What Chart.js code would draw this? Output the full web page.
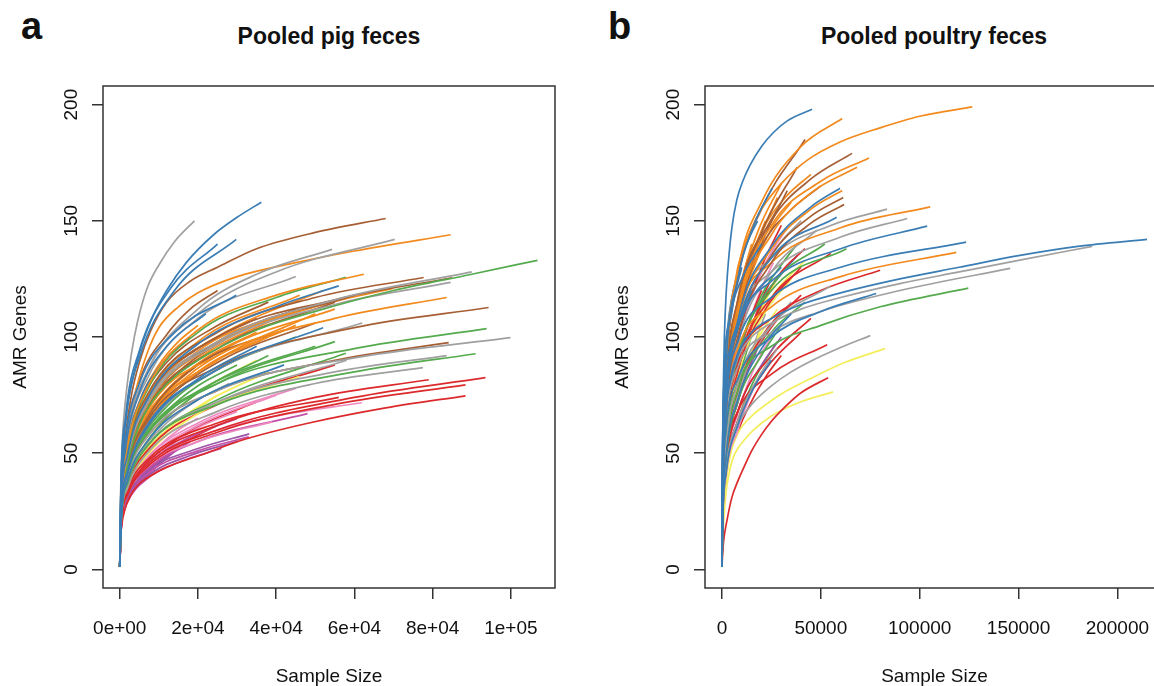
<!DOCTYPE html>
<html>
<head>
<meta charset="utf-8">
<script src="https://cdn.jsdelivr.net/npm/chart.js@4/dist/chart.umd.min.js"></script>
<style>
  html, body { margin: 0; padding: 0; overflow: hidden; background: #fff; }
  body { position: relative; width: 1154px; height: 686px; font-family: 'Liberation Sans', Arial, Helvetica, sans-serif; color: #111; }
  canvas { position: absolute; top: 0; }
  .letter { position: absolute; font-weight: bold; font-size: 38px; line-height: 38px; }
  .title { position: absolute; width: 400px; text-align: center; font-weight: bold; font-size: 23px; line-height: 23px; top: 25px; }
</style>
</head>
<body>
<div class="letter" style="left:21px; top:7px">a</div>
<div class="title" style="left:129px">Pooled pig feces</div>
<div class="letter" style="left:608px; top:7px">b</div>
<div class="title" style="left:734px">Pooled poultry feces</div>
<canvas id="pig" width="577" height="686" style="left:0"></canvas>
<canvas id="poultry" width="600" height="686" style="left:577px"></canvas>
<script>
/* rarefaction curves, [sample size, AMR genes] */

var geneTicks = [0, 50, 100, 150, 200]
var geneTickLabels = ['0', '50', '100', '150', '200']

var pigTicks = [0, 20000, 40000, 60000, 80000, 100000]
var pigTickLabels = ['0e+00', '2e+04', '4e+04', '6e+04', '8e+04', '1e+05']

var poultryTicks = [0, 50000, 100000, 150000, 200000]
var poultryTickLabels = ['0', '50000', '100000', '150000', '200000']

var pigCurves = [
  [[0,1],[150,22],[400,38],[1000,55],[2000,70],[3500,83],[5500,96],[8500,109],[12000,120],[17000,132],[24000,144],[30000,151.5],[36200,158]],
  [[0,1],[300,36],[1500,66],[5000,94],[13000,121],[25000,140]],
  [[0,1],[300,35],[1500,64],[5000,91],[14000,120],[29800,142]],
  [[0,1],[300,30],[1500,56],[5000,80],[14000,102],[29800,118]],
  [[0,1],[400,23],[2000,41],[7000,61],[25000,86],[52000,104]],
  [[0,1],[400,24],[2000,42],[7000,62],[20000,82],[35000,96]],
  [[0,1],[300,28],[1500,52],[5000,76],[12000,96],[22000,110]],
  [[0,1],[400,22],[2000,38],[7000,55],[20000,73],[42000,88]],
  [[0,1],[400,27],[2000,49],[7000,73],[20000,97],[40000,113],[56000,122]],
  [[0,1],[150,25],[400,45],[900,62],[1800,78],[3000,93],[4600,107],[7000,121],[10000,131],[14000,141],[19100,150]],
  [[0,1],[200,25],[700,42],[1500,58],[3000,75],[5000,89],[8000,103],[12000,115],[18000,124],[25000,130],[35000,138],[50000,145],[68000,151]],
  [[0,1],[400,32],[2000,58],[7000,85],[20000,110],[40000,128],[70300,142]],
  [[0,1],[400,33],[2000,58],[7000,85],[20000,112],[35000,127],[54300,137.7]],
  [[0,1],[200,20],[700,35],[2000,56],[4000,76],[7000,93],[10000,104],[15000,113],[20000,119],[30000,126],[45000,132],[60000,137],[84600,144]],
  [[0,1],[400,30],[2000,53],[7000,78],[20000,103],[40000,118],[62400,127]],
  [[0,1],[400,29],[2000,52],[7000,77],[20000,102],[40000,117],[57800,125.7]],
  [[0,1],[200,16],[700,28],[2000,45],[5000,62],[10000,76],[20000,90],[35000,103],[50000,111],[70000,120],[90000,127],[106800,133]],
  [[0,1],[400,28],[2000,49],[7000,72],[25000,98],[55000,116],[90000,128]],
  [[0,1],[400,28],[2000,50],[7000,73],[25000,100],[55000,116],[85000,125.5]],
  [[0,1],[400,27],[2000,48],[7000,71],[25000,97],[55000,114],[84600,123.5]],
  [[0,1],[400,28],[2000,51],[7000,75],[25000,102],[50000,117],[77700,125.6]],
  [[0,1],[400,26],[2000,46],[7000,68],[25000,92],[55000,108],[83600,117]],
  [[0,1],[400,25],[2000,44],[7000,64],[25000,87],[60000,104],[94300,112.7]],
  [[0,1],[400,24],[2000,41],[7000,59],[25000,80],[60000,95],[93800,103.6]],
  [[0,1],[400,24],[2000,40],[7000,57],[25000,77],[60000,91],[99900,99.7]],
  [[0,1],[400,23],[2000,40],[7000,57],[25000,77],[55000,90],[84100,97.6]],
  [[0,1],[400,22],[2000,37],[7000,53],[25000,71],[60000,85],[91000,92.8]],
  [[0,1],[400,22],[2000,37],[7000,53],[25000,72],[55000,85],[83600,92]],
  [[0,1],[400,21],[2000,35],[7000,50],[25000,68],[50000,80],[77500,86.8]],
  [[0,1],[400,20],[2000,33],[7000,45],[25000,60],[60000,74],[93500,82.5]],
  [[0,1],[400,20],[2000,33],[7000,46],[25000,62],[50000,74],[79000,81.6]],
  [[0,1],[400,19],[2000,32],[7000,44],[25000,59],[55000,71],[88400,79.4]],
  [[0,1],[150,12],[500,19],[1200,25],[2500,31],[4500,36],[7600,40],[12000,44],[20400,49],[32000,56],[48400,63],[68000,69.5],[88400,74.7]],
  [[0,1],[400,20],[2000,33],[7000,45],[20000,57],[40000,66],[61900,71.7]],
  [[0,1],[400,19],[2000,32],[7000,44],[20000,55],[39000,63.5]],
  [[0,1],[400,19],[2000,31],[7000,42],[20000,52],[33100,58.3]],
  [[0,1],[400,18],[2000,30],[7000,41],[20000,51],[33000,57]],
  [[0,1],[400,18],[2000,29],[7000,39],[15000,46],[26000,52]],
  [[0,1],[400,18],[2000,30],[7000,40],[18000,49],[30000,55]],
  [[0,1],[400,19],[2000,32],[7000,43],[20000,55],[48000,67]],
  [[0,1],[400,20],[2000,34],[7000,47],[25000,63],[56000,74]],
  [[0,1],[400,27],[2000,49],[7000,74],[20000,98],[46000,118]],
  [[0,1],[400,25],[2000,46],[7000,69],[25000,95],[55000,115]],
  [[0,1],[400,24],[2000,43],[7000,64],[25000,90],[50000,110]],
  [[0,1],[400,24],[2000,42],[7000,62],[20000,85],[45000,105]],
  [[0,1],[400,24],[2000,42],[7000,62],[20000,85],[38000,100]],
  [[0,1],[400,25],[2000,44],[7000,65],[20000,88],[42000,103]],
  [[0,1],[400,22],[2000,38],[7000,55],[20000,76],[38000,92]],
  [[0,1],[400,21],[2000,35],[7000,49],[20000,67],[45900,83]],
  [[0,1],[400,31],[2000,56],[7000,82],[20000,108],[45000,126]],
  [[0,1],[400,26],[2000,47],[7000,70],[20000,94],[48000,113]],
  [[0,1],[400,26],[2000,47],[7000,70],[25000,98],[60000,118]],
  [[0,1],[400,23],[2000,41],[7000,61],[25000,86],[62000,106]],
  [[0,1],[400,23],[2000,40],[7000,58],[25000,80],[55000,98]],
  [[0,1],[400,20],[2000,34],[7000,47],[20000,62],[40000,75]],
  [[0,1],[400,22],[2000,37],[7000,53],[25000,72],[58000,90]],
  [[0,1],[400,26],[2000,47],[7000,70],[25000,97],[50000,113],[70000,121]],
  [[0,1],[400,27],[2000,49],[7000,74],[20000,95],[35000,108]],
  [[0,1],[400,25],[2000,44],[7000,65],[18000,84],[28000,95]],
  [[0,1],[400,21],[2000,35],[7000,48],[20000,63],[45000,78]],
  [[0,1],[400,20],[2000,33],[7000,45],[18000,57],[30000,65]],
  [[0,1],[400,21],[2000,36],[7000,51],[25000,71],[55000,88]],
  [[0,1],[400,22],[2000,38],[7000,55],[20000,76],[35000,90]],
  [[0,1],[400,22],[2000,37],[7000,53],[25000,73],[57800,93]],
  [[0,1],[300,25],[1500,45],[5000,66],[12000,84],[28000,103],[52000,120]],
  [[0,1],[300,24],[1500,43],[5000,63],[12000,80],[25000,97],[45000,112]],
  [[0,1],[300,24],[1500,42],[5000,62],[12000,79],[24000,95],[40000,108]],
  [[0,1],[300,22],[1500,39],[5000,57],[12000,73],[26000,90],[50000,106]],
  [[0,1],[300,23],[1500,41],[5000,60],[12000,77],[22000,91],[35000,102]],
  [[0,1],[300,23],[1500,40],[5000,59],[12000,76],[20000,88],[30000,98]],
  [[0,1],[300,25],[1500,44],[5000,64],[12000,82],[24000,97],[42000,110]],
  [[0,1],[300,27],[1500,48],[5000,70],[12000,89],[24000,104],[38000,115]],
  [[0,1],[300,21],[1500,37],[5000,54],[12000,70],[25000,86],[45000,100]],
  [[0,1],[300,19],[1500,33],[5000,47],[12000,60],[22000,72],[38000,85]],
  [[0,1],[300,21],[1500,37],[5000,53],[12000,68],[20000,79],[30000,88]],
  [[0,1],[300,19],[1500,34],[5000,49],[12000,63],[20000,73],[28000,80]],
  [[0,1],[300,18],[1500,30],[5000,41],[12000,52],[20000,61],[30000,68]],
  [[0,1],[300,18],[1500,29],[5000,39],[10000,47],[16000,55],[22000,60]],
  [[0,1],[300,17],[1500,28],[5000,38],[10000,46],[18000,55]],
  [[0,1],[300,17],[1500,28],[5000,37],[10000,45],[15000,52]],
  [[0,1],[300,17],[1500,29],[5000,39],[12000,49],[18000,56],[25000,62]],
  [[0,1],[300,19],[1500,32],[5000,44],[10000,53],[15000,60],[20000,65]],
  [[0,1],[300,26],[1500,45],[5000,64],[10000,80],[15000,90]],
  [[0,1],[300,28],[1500,50],[5000,72],[10000,87],[18000,100]],
  [[0,1],[300,31],[1500,56],[5000,81],[12000,101],[18000,112],[25000,120]],
  [[0,1],[300,28],[1500,50],[5000,72],[10000,88],[15000,98],[20000,105]],
  [[0,1],[300,21],[1500,37],[5000,53],[12000,67],[26000,82],[50000,96]],
  [[0,1],[300,18],[1500,31],[5000,42],[12000,53],[22000,63],[35000,72]],
  [[0,1],[300,19],[1500,33],[5000,46],[12000,59],[18000,67],[25000,75]],
  [[0,1],[300,23],[1500,41],[5000,60],[12000,77],[28000,96],[55000,112]],
  [[0,1],[300,22],[1500,38],[5000,55],[12000,71],[22000,83],[32000,92]],
  [[0,1],[300,26],[1500,46],[5000,65],[8500,77],[12000,85]]
]

var poultryCurves = [
  [[0,1],[100,30],[300,55],[700,80],[1200,100],[2000,117],[3200,132],[5000,147],[7500,159],[10500,167],[14200,174],[20000,182],[26000,188],[33000,193],[45600,198]],
  [[0,1],[200,40],[1000,80],[4000,108],[10000,125],[20000,140]],
  [[0,1],[200,36],[1000,72],[4000,95],[9000,108],[15000,120]],
  [[0,1],[200,30],[1000,60],[4000,80],[8000,92],[12000,100]],
  [[0,1],[200,32],[1000,65],[4000,90],[12000,112],[30000,130]],
  [[0,1],[300,31],[2000,71],[8000,107],[25000,139],[45000,156],[59700,164]],
  [[0,1],[300,38],[2000,76],[8000,104],[25000,124],[60000,138],[103800,147.7]],
  [[0,1],[300,36],[2000,72],[8000,98],[25000,117],[60000,130],[123500,140.8]],
  [[0,1],[200,25],[800,48],[2000,68],[4500,83],[8000,93],[15000,102],[25000,108],[40000,114],[60000,119],[90000,125],[120000,130],[150000,135],[180000,139],[215000,142]],
  [[0,1],[300,31],[2000,70],[8000,104],[25000,134],[58000,151.5]],
  [[0,1],[300,38],[2000,86],[8000,125],[16000,148],[25300,164]],
  [[0,1],[300,30],[2000,60],[8000,82],[25000,100],[50000,111],[78000,118.7]],
  [[0,1],[300,22],[2000,48],[8000,73],[20000,95],[35000,110]],
  [[0,1],[300,20],[2000,41],[8000,62],[16000,78],[25000,90]],
  [[0,1],[200,30],[800,55],[2000,85],[4000,108],[8000,130],[14000,145],[20000,155],[30000,166],[43000,176],[60000,184],[80000,190],[100000,195],[126600,199]],
  [[0,1],[300,35],[2000,85],[8000,128],[20000,158],[40000,182],[60800,194]],
  [[0,1],[300,34],[2000,82],[8000,125],[20000,155],[42000,185]],
  [[0,1],[300,32],[2000,76],[8000,116],[25000,150],[45000,168],[65800,179]],
  [[0,1],[300,32],[2000,75],[8000,113],[25000,148],[50000,167],[74400,177]],
  [[0,1],[300,31],[2000,72],[8000,110],[25000,144],[45000,162],[68300,173]],
  [[0,1],[300,30],[2000,70],[8000,106],[25000,138],[45000,155],[60800,163]],
  [[0,1],[300,30],[2000,68],[8000,103],[25000,135],[45000,152],[61300,160]],
  [[0,1],[300,29],[2000,66],[8000,100],[25000,132],[45000,149],[61800,157]],
  [[0,1],[300,31],[2000,74],[8000,113],[20000,145],[38000,173]],
  [[0,1],[300,32],[2000,76],[8000,116],[18000,145],[30000,166]],
  [[0,1],[300,30],[2000,72],[8000,110],[18000,140],[28000,160]],
  [[0,1],[300,30],[2000,70],[8000,107],[20000,140],[33000,163]],
  [[0,1],[300,33],[2000,76],[8000,115],[15000,135],[22000,150]],
  [[0,1],[300,40],[2000,80],[8000,111],[25000,134],[55000,148],[83500,155]],
  [[0,1],[300,40],[2000,80],[8000,110],[25000,132],[60000,147],[105300,156]],
  [[0,1],[300,39],[2000,78],[8000,107],[25000,128],[60000,143],[93700,151]],
  [[0,1],[300,35],[2000,70],[8000,95],[25000,113],[60000,126],[118500,136.4]],
  [[0,1],[200,24],[800,46],[2000,66],[4500,81],[8000,91],[15000,100],[25000,106],[40000,112],[60000,117],[90000,123],[120000,128],[150000,133],[187300,139]],
  [[0,1],[300,33],[2000,64],[8000,87],[25000,102],[50000,111],[90000,120],[145800,129.5]],
  [[0,1],[300,28],[2000,64],[8000,97],[25000,128],[48000,146]],
  [[0,1],[300,23],[2000,52],[8000,80],[25000,105],[55000,122]],
  [[0,1],[300,20],[2000,42],[8000,64],[18000,82],[28000,95]],
  [[0,1],[300,18],[1000,33],[2500,46],[5000,56],[8000,62.5],[10600,66],[16000,72],[25000,79],[35000,85],[44600,89.5],[60000,95.5],[75000,100.6]],
  [[0,1],[300,30],[2000,58],[8000,80],[25000,96],[50000,105],[80000,113],[124600,121]],
  [[0,1],[300,26],[2000,60],[8000,91],[25000,122],[52000,140]],
  [[0,1],[300,27],[2000,61],[8000,92],[25000,120],[63000,138]],
  [[0,1],[300,22],[2000,50],[8000,77],[25000,102],[42000,115]],
  [[0,1],[300,22],[2000,47],[8000,72],[20000,92],[30000,105]],
  [[0,1],[300,34],[2000,66],[8000,90],[25000,108],[50000,120],[80000,128.7]],
  [[0,1],[300,26],[2000,50],[8000,68],[25000,84],[53200,96.7]],
  [[0,1],[300,28],[2000,64],[8000,98],[20000,130],[30000,148]],
  [[0,1],[300,25],[2000,58],[8000,88],[25000,117],[55000,136]],
  [[0,1],[300,24],[2000,55],[8000,85],[22000,112],[40000,130]],
  [[0,1],[300,22],[2000,50],[8000,77],[20000,100],[40000,118]],
  [[0,1],[300,20],[2000,44],[8000,68],[25000,92],[45000,108]],
  [[0,1],[300,20],[2000,42],[8000,64],[22000,86],[40000,102]],
  [[0,1],[300,28],[2000,60],[8000,90],[14000,107],[20000,120]],
  [[0,1],[200,5],[800,12],[2500,21],[5000,31],[8000,38],[10600,43],[15000,51],[20000,58],[24300,63],[32000,70],[40000,76],[53700,82.5]],
  [[0,1],[300,27],[2000,62],[8000,96],[20000,128],[32000,146]],
  [[0,1],[300,19],[2000,40],[8000,60],[14000,74],[20000,85]],
  [[0,1],[300,25],[2000,57],[8000,88],[25000,117],[42000,133]],
  [[0,1],[300,23],[2000,53],[8000,83],[20000,108],[35000,125]],
  [[0,1],[300,23],[2000,51],[8000,78],[18000,99],[28000,112]],
  [[0,1],[300,14],[1000,28],[2500,41],[5000,52],[8000,58.5],[10600,62],[15000,66],[19200,69],[30000,75.5],[44600,82],[62000,89],[82500,95]],
  [[0,1],[200,8],[800,20],[2000,33],[3500,41],[5600,48],[8000,52],[10600,55],[16000,60],[25000,66],[38000,71.5],[56200,76.4]],
  [[0,1],[300,21],[2000,45],[8000,68],[20000,88],[30000,100]],
  [[0,1],[300,22],[2000,48],[8000,72],[13000,85],[18000,95]],
  [[0,1],[300,32],[2000,76],[8000,115],[20000,145],[32000,160],[45000,170]],
  [[0,1],[300,30],[2000,72],[8000,110],[20000,139],[34000,154],[50000,165]],
  [[0,1],[300,30],[2000,70],[8000,107],[18000,134],[26000,148],[35000,158]],
  [[0,1],[300,30],[2000,70],[8000,108],[16000,134],[22000,146],[28000,155]],
  [[0,1],[300,28],[2000,65],[8000,99],[20000,128],[30000,141],[40000,150]],
  [[0,1],[300,26],[2000,60],[8000,91],[20000,118],[30000,131],[38000,140]],
  [[0,1],[300,25],[2000,58],[8000,88],[20000,114],[30000,128],[42000,138]],
  [[0,1],[300,28],[2000,62],[8000,92],[20000,116],[30000,127],[38000,135]],
  [[0,1],[300,25],[2000,58],[8000,89],[16000,112],[21000,123],[26000,132]],
  [[0,1],[300,24],[2000,55],[8000,84],[18000,108],[24000,119],[30000,128]],
  [[0,1],[300,24],[2000,55],[8000,84],[15000,104],[20000,116],[25000,125]],
  [[0,1],[300,23],[2000,52],[8000,80],[14000,98],[18000,109],[22000,118]],
  [[0,1],[300,22],[2000,49],[8000,75],[18000,96],[26000,106],[35000,115]],
  [[0,1],[300,21],[2000,47],[8000,72],[16000,92],[24000,103],[32000,112]],
  [[0,1],[300,22],[2000,48],[8000,73],[13000,87],[17000,97],[20000,105]],
  [[0,1],[300,20],[2000,44],[8000,67],[15000,84],[20000,93],[25000,100]],
  [[0,1],[300,18],[2000,39],[8000,59],[16000,74],[23000,84],[30000,92]],
  [[0,1],[300,19],[2000,42],[8000,64],[16000,81],[22000,90],[28000,98]],
  [[0,1],[300,22],[2000,48],[5000,66],[8500,79],[12000,90]],
  [[0,1],[200,30],[1000,58],[3000,76],[5500,87],[8000,95]],
  [[0,1],[200,38],[1000,75],[3000,98],[6000,116],[10000,130]],
  [[0,1],[200,40],[1000,80],[3000,105],[8000,128],[13000,141],[18000,150]],
  [[0,1],[300,33],[2000,76],[6000,104],[10000,124],[15000,140]],
  [[0,1],[300,22],[2000,48],[8000,74],[14000,91],[18000,101],[22000,110]],
  [[0,1],[300,24],[2000,52],[6000,74],[10000,90],[15000,105]]
]

var RED = '#dc2a2c', BLUE = '#3a7db5', GREEN = '#55aa4e', PURPLE = '#9a55a8',
    ORANGE = '#f28a1e', YELLOW = '#f3ee5a', BROWN = '#a65f35', PINK = '#ee8ac0',
    GREY = '#a0a0a0', MAGENTA = '#c34fa6'

var pigColours = [
  BLUE, BLUE, BLUE, BLUE, BLUE, BLUE, BLUE, BLUE, BLUE,
  GREY, BROWN, GREY, GREY, ORANGE, ORANGE, GREEN, GREEN, GREY, BROWN, GREY,
  BROWN, ORANGE, BROWN, GREEN, GREY, BROWN, GREEN, GREY, GREY,
  RED, RED, RED, RED, PINK, PINK, PURPLE, MAGENTA, MAGENTA, PURPLE, MAGENTA, RED,
  ORANGE, BROWN, ORANGE, ORANGE, ORANGE, BROWN, GREEN, YELLOW, GREY, ORANGE,
  BROWN, GREY, GREEN, PINK, GREY, ORANGE, BROWN, ORANGE, PINK, MAGENTA, RED,
  YELLOW, GREEN,
  ORANGE, BROWN, ORANGE, BROWN, ORANGE, ORANGE, GREY, BROWN, GREEN, YELLOW,
  GREEN, GREY, PINK, MAGENTA, PURPLE, MAGENTA, RED, PINK, GREY, BLUE,
  BROWN, ORANGE, GREEN, RED, YELLOW, ORANGE, GREY, BLUE
]

var poultryColours = [
  BLUE, BLUE, BLUE, BLUE, BLUE, BLUE, BLUE, BLUE, BLUE, BLUE, BLUE, BLUE, BLUE, BLUE,
  ORANGE, ORANGE, BROWN, BROWN, ORANGE, ORANGE, ORANGE, BROWN, BROWN, BROWN,
  ORANGE, ORANGE, BROWN, ORANGE, GREY, ORANGE, GREY, ORANGE, GREY, GREY, GREY,
  GREY, GREY, GREY, GREEN, GREEN, GREEN, GREEN, GREEN, RED, RED, RED, RED, RED,
  RED, RED, RED, RED, RED, PINK, PINK, YELLOW, YELLOW, YELLOW, YELLOW, YELLOW,
  PURPLE, PURPLE,
  ORANGE, BROWN, ORANGE, BROWN, GREY, GREEN, RED, BLUE, PINK, YELLOW,
  RED, GREEN, GREY, RED, YELLOW, PINK, RED, GREEN, PURPLE, BLUE,
  BLUE, BLUE, ORANGE, GREY, RED
]

var FONT = "'Liberation Sans', Arial, Helvetica, sans-serif"

// R style frame plus rotated y tick labels
var framePlugin = {
  id: 'frame',
  afterDraw: function (chart) {
    var c = chart.ctx, a = chart.chartArea, y = chart.scales.y
    c.save()
    c.strokeStyle = '#333'
    c.lineWidth = 1.5
    c.strokeRect(a.left, a.top, a.right - a.left, a.bottom - a.top)
    c.fillStyle = '#111'
    c.font = '19px ' + FONT
    c.textAlign = 'center'
    c.textBaseline = 'alphabetic'
    geneTicks.forEach(function (v, i) {
      c.save()
      c.translate(a.left - 26, y.getPixelForValue(v))
      c.rotate(-Math.PI / 2)
      c.fillText(geneTickLabels[i], 0, 0)
      c.restore()
    })
    c.restore()
  }
}

function rareChart (id, curves, colours, xMin, xMax, xTicks, xLabels, left, right) {
  var canvas = document.getElementById(id)
  var axisFont = { family: FONT, size: 19, lineHeight: 1.2 }

  var datasets = curves.map(function (pts, i) {
    return {
      data: pts,
      borderColor: colours[i % colours.length],
      borderWidth: 1.7,
      pointRadius: 0,
      fill: false,
      cubicInterpolationMode: 'monotone'
    }
  })

  return new Chart(canvas, {
    type: 'line',
    data: { datasets: datasets },
    options: {
      responsive: false,
      animation: false,
      events: [],
      layout: { padding: { left: 0, top: 86, right: canvas.width - right, bottom: 0 } },
      plugins: { legend: { display: false }, tooltip: { enabled: false } },
      scales: {
        x: {
          type: 'linear',
          min: xMin,
          max: xMax,
          afterBuildTicks: function (s) { s.ticks = xTicks.map(function (v) { return { value: v } }) },
          afterFit: function (s) { s.height = 98 },
          ticks: {
            autoSkip: false,
            maxRotation: 0,
            padding: 18,
            color: '#111',
            font: axisFont,
            callback: function (v, i) { return xLabels[i] }
          },
          grid: { drawOnChartArea: false, tickLength: 11, color: '#333', lineWidth: 1.5 },
          border: { display: false },
          title: { display: true, text: 'Sample Size', color: '#111', font: { family: FONT, size: 19, lineHeight: 0.95 }, padding: { top: 0, bottom: 0 } }
        },
        y: {
          type: 'linear',
          min: -8,
          max: 208,
          afterBuildTicks: function (s) { s.ticks = geneTicks.map(function (v) { return { value: v } }) },
          afterFit: function (s) { s.width = left },
          ticks: { display: false },
          grid: { drawOnChartArea: false, tickLength: 11, color: '#333', lineWidth: 1.5 },
          border: { display: false },
          title: { display: true, text: 'AMR Genes', color: '#111', font: axisFont, padding: { top: left - 94, bottom: 0 } }
        }
      }
    },
    plugins: [framePlugin]
  })
}

rareChart('pig', pigCurves, pigColours, -4280, 111280, pigTicks, pigTickLabels, 103, 555)
rareChart('poultry', poultryCurves, poultryColours, -8600, 223600, poultryTicks, poultryTickLabels, 128, 587)
</script>
</body>
</html>
